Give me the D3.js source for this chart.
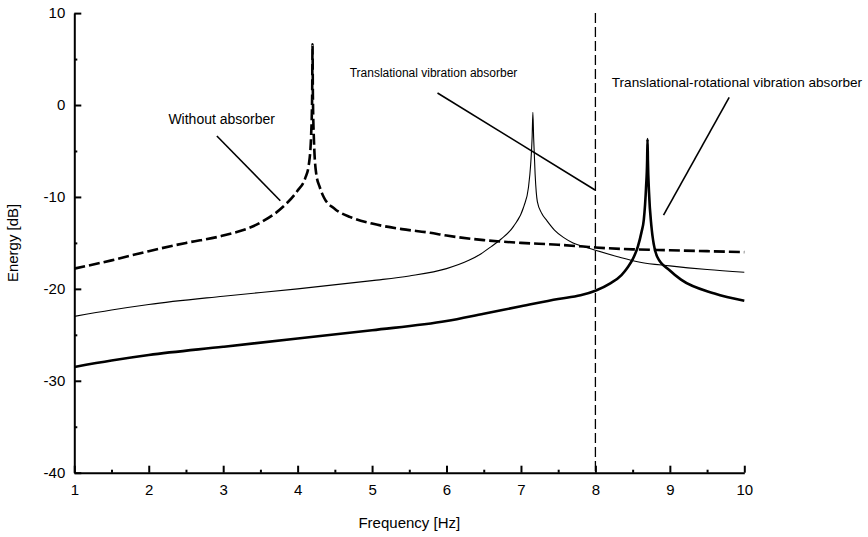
<!DOCTYPE html>
<html>
<head>
<meta charset="utf-8">
<script src="https://cdn.jsdelivr.net/npm/d3@7"></script>
<style>
  html, body { margin: 0; padding: 0; background: #fff; }
  svg { display: block; font-family: Arial, "Liberation Sans", sans-serif; }
</style>
</head>
<body>
<div id="chart"></div>
<script>
// energy spectra: [frequency Hz, energy dB]
const withoutAbsorber = [
  [1, -17.8], [1.5, -16.9], [2, -15.9], [2.5, -15.0], [3, -14.2], [3.5, -12.8],
  [3.8, -11.1], [4.0, -9.3], [4.1, -8.0], [4.15, -6.5], [4.18, -3.5], [4.195, 1.0],
  [4.2, 6.6], [4.205, 1.0], [4.22, -4.0], [4.25, -7.5], [4.3, -9.0], [4.35, -10.0],
  [4.5, -11.3], [4.71, -12.2], [5.0, -12.9], [5.4, -13.5], [5.78, -13.9], [6.0, -14.2],
  [6.5, -14.7], [7.0, -15.0], [7.5, -15.2], [7.84, -15.4], [8.0, -15.5], [8.5, -15.7],
  [9.0, -15.8], [9.5, -15.9], [10, -16.0]
];

const translational = [
  [1, -23.0], [1.5, -22.3], [2, -21.7], [3, -20.8], [4, -20.0], [5, -19.1],
  [5.5, -18.6], [6.0, -17.8], [6.3, -16.9], [6.46, -16.2], [6.6, -15.4], [6.73, -14.6],
  [6.9, -13.2], [7.04, -11.0], [7.1, -9.0], [7.13, -6.5], [7.15, -3.5], [7.16, -0.8],
  [7.17, -3.5], [7.19, -7.5], [7.22, -10.5], [7.28, -11.8], [7.35, -12.6], [7.45, -13.6],
  [7.57, -14.4], [7.7, -15.0], [7.84, -15.4], [8.0, -15.8], [8.3, -16.5], [8.6, -17.1],
  [9.0, -17.5], [9.5, -17.9], [10, -18.2]
];

const translationalRotational = [
  [1, -28.5], [1.5, -27.8], [2, -27.2], [3, -26.3], [4, -25.4], [5, -24.5],
  [6, -23.5], [6.5, -22.7], [7.0, -21.9], [7.5, -21.1], [7.8, -20.7], [8.0, -20.2],
  [8.2, -19.4], [8.35, -18.5], [8.43, -17.7], [8.5, -16.8], [8.57, -15.4], [8.62, -13.8],
  [8.65, -12.5], [8.68, -9.0], [8.695, -6.0], [8.70, -3.7], [8.705, -6.0], [8.72, -9.5],
  [8.75, -13.0], [8.83, -16.5], [9.0, -18.0], [9.15, -19.0], [9.6, -20.5], [10, -21.3]
];

const xTicks = [1, 2, 3, 4, 5, 6, 7, 8, 9, 10];
const xMinorTicks = [1.5, 2.5, 3.5, 4.5, 5.5, 6.5, 7.5, 8.5, 9.5];
const yTicks = [-40, -30, -20, -10, 0, 10];
const yMinorTicks = [-35, -25, -15, -5, 5];
const markerFreq = 8;

// labels with leader lines, anchored in data units
const annotations = [
  { text: "Without absorber", tx: 2.264, ty: -2.07, x1: 2.915, y1: -3.37, x2: 3.767, y2: -10.41, size: 14 },
  { text: "Translational vibration absorber", tx: 4.699, ty: 3.05, x1: 5.879, y1: 1.31, x2: 7.995, y2: -9.25, size: 12 },
  { text: "Translational-rotational vibration absorber", tx: 8.22, ty: 1.96, x1: 9.797, y1: 0.84, x2: 8.915, y2: -11.97, size: 13.6 }
];

const W = 868, H = 537;
const margin = { top: 13.1, right: 123.7, bottom: 64.3, left: 74.3 };
const width = W - margin.left - margin.right;
const height = H - margin.top - margin.bottom;

const svg = d3.select("#chart").append("svg")
  .attr("width", W)
  .attr("height", H)
  .append("g")
  .attr("transform", `translate(${margin.left},${margin.top})`);

const x = d3.scaleLinear().domain([1, 10]).range([0, width]);
const y = d3.scaleLinear().domain([-40, 10]).range([height, 0]);

const fmt = d => String(d); // plain hyphen minus like the original

// minor ticks first, majors on top
svg.append("g")
  .attr("transform", `translate(0,${height})`)
  .call(d3.axisBottom(x).tickValues(xMinorTicks).tickSize(-3).tickFormat(""))
  .call(g => g.select(".domain").remove());
svg.append("g")
  .call(d3.axisLeft(y).tickValues(yMinorTicks).tickSize(-3).tickFormat(""))
  .call(g => g.select(".domain").remove());

svg.append("g")
  .attr("transform", `translate(0,${height})`)
  .call(d3.axisBottom(x).tickValues(xTicks).tickSizeInner(-7).tickSizeOuter(0).tickPadding(12).tickFormat(fmt));
svg.append("g")
  .call(d3.axisLeft(y).tickValues(yTicks).tickSizeInner(-7).tickSizeOuter(0).tickPadding(9).tickFormat(fmt));

svg.selectAll(".tick line, .domain").attr("stroke", "#000").attr("stroke-width", 2);
svg.selectAll(".tick text").attr("font-size", 15).attr("font-family", "Arial, 'Liberation Sans', sans-serif").attr("fill", "#000");

// vertical marker at 8 Hz
svg.append("line")
  .attr("x1", x(markerFreq)).attr("x2", x(markerFreq))
  .attr("y1", y(10)).attr("y2", y(-40))
  .attr("stroke", "#000")
  .attr("stroke-width", 1.3)
  .attr("stroke-dasharray", "10,4");

const line = d3.line()
  .x(d => x(d[0]))
  .y(d => y(d[1]))
  .curve(d3.curveMonotoneX);

const series = [
  { data: translational, width: 1.1, dash: null },
  { data: translationalRotational, width: 2.6, dash: null },
  { data: withoutAbsorber, width: 2.6, dash: "11,4" }
];

svg.append("g").selectAll("path")
  .data(series)
  .join("path")
    .attr("d", d => line(d.data))
    .attr("fill", "none")
    .attr("stroke", "#000")
    .attr("stroke-width", d => d.width)
    .attr("stroke-dasharray", d => d.dash);

// annotations
const ann = svg.append("g");
ann.selectAll("line")
  .data(annotations)
  .join("line")
    .attr("x1", d => x(d.x1)).attr("y1", d => y(d.y1))
    .attr("x2", d => x(d.x2)).attr("y2", d => y(d.y2))
    .attr("stroke", "#000")
    .attr("stroke-width", 1.6);
ann.selectAll("text")
  .data(annotations)
  .join("text")
    .attr("x", d => x(d.tx))
    .attr("y", d => y(d.ty))
    .attr("font-size", d => d.size)
    .text(d => d.text);

// axis titles
svg.append("text")
  .attr("x", width / 2)
  .attr("y", height + 55)
  .attr("text-anchor", "middle")
  .attr("font-size", 15)
  .text("Frequency [Hz]");
svg.append("text")
  .attr("transform", `translate(${-56},${height / 2}) rotate(-90)`)
  .attr("text-anchor", "middle")
  .attr("font-size", 15)
  .text("Energy [dB]");
</script>
</body>
</html>
